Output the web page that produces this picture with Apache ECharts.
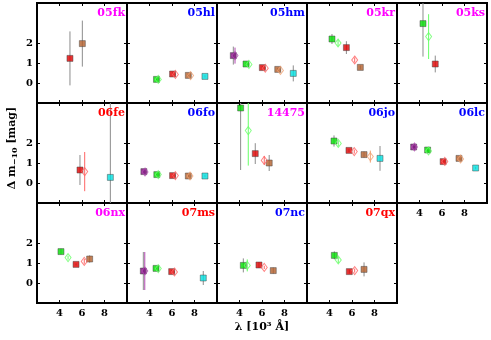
<!DOCTYPE html>
<html>
<head>
<meta charset="utf-8">
<script src="https://cdn.jsdelivr.net/npm/echarts@6/dist/echarts.min.js"></script>
<style>
html, body { margin: 0; padding: 0; background: #fff; }
#container { width: 491px; height: 340px; }
</style>
</head>
<body>
<div id="container"></div>
<script>
// panel names, in reading order (5 per row)
var panelNames = ['05fk', '05hl', '05hm', '05kr', '05ks', '06fe', '06fo', '14475', '06jo', '06lc', '06nx', '07ms', '07nc', '07qx'];
var nameColors = ['#ff00ff', '#0000ff', '#0000ff', '#ff00ff', '#ff00ff', '#ff0000', '#0000ff', '#ff00ff', '#0000ff', '#0000ff', '#ff00ff', '#ff0000', '#0000ff', '#ff0000'];

var xTicks = [4, 6, 8];
var yTicks = [0, 1, 2];

// [lambda (10^3 A), delta m, error, band, open(1) / filled(0)]
var d05fk = [[4.93, 1.23, 1.35, 'r', 0], [6.03, 1.97, 1.15, 'b', 0]];
var d05hl = [[4.62, 0.18, 0.08, 'g', 0], [4.78, 0.18, 0.06, 'g', 1], [6.05, 0.45, 0.08, 'r', 0], [6.3, 0.43, 0.06, 'r', 1],
             [7.45, 0.38, 0.08, 'b', 0], [7.65, 0.37, 0.06, 'b', 1], [8.93, 0.33, 0.06, 'c', 0]];
var d05hm = [[3.45, 1.37, 0.45, 'p', 0], [3.6, 1.37, 0.4, 'p', 1], [4.58, 0.95, 0.08, 'g', 0], [4.84, 0.93, 0.06, 'g', 1],
             [6.03, 0.77, 0.08, 'r', 0], [6.29, 0.74, 0.06, 'r', 1], [7.4, 0.68, 0.08, 'b', 0], [7.64, 0.63, 0.06, 'b', 1],
             [8.78, 0.48, 0.4, 'c', 0]];
var d05kr = [[4.22, 2.2, 0.25, 'g', 0], [4.76, 2.0, 0.16, 'g', 1], [5.5, 1.77, 0.32, 'r', 0], [6.24, 1.15, 0.13, 'r', 1],
             [6.74, 0.78, 0.1, 'b', 0]];
var d05ks = [[4.31, 2.97, 1.65, 'g', 0], [4.81, 2.32, 1.12, 'g', 1], [5.4, 0.95, 0.42, 'r', 0]];
var d06fe = [[5.82, 0.65, 0.75, 'r', 0], [6.24, 0.57, 0.98, 'r', 1], [8.52, 0.28, 5.0, 'c', 0]];
var d06fo = [[3.5, 0.57, 0.1, 'p', 0], [3.6, 0.55, 0.08, 'p', 1], [4.65, 0.42, 0.08, 'g', 0], [4.78, 0.42, 0.06, 'g', 1],
             [6.05, 0.37, 0.08, 'r', 0], [6.3, 0.37, 0.06, 'r', 1], [7.45, 0.35, 0.08, 'b', 0], [7.6, 0.35, 0.06, 'b', 1],
             [8.93, 0.35, 0.06, 'c', 0]];
var d14475 = [[4.1, 3.75, 3.1, 'g', 0], [4.78, 2.62, 1.75, 'g', 1], [5.4, 1.47, 0.52, 'r', 0], [6.2, 1.13, 0.22, 'r', 1],
              [6.64, 1.0, 0.4, 'b', 0]];
var d06jo = [[4.4, 2.1, 0.28, 'g', 0], [4.78, 1.98, 0.15, 'g', 1], [5.73, 1.63, 0.08, 'r', 0], [6.2, 1.57, 0.1, 'r', 1],
             [7.07, 1.42, 0.15, 'b', 0], [7.63, 1.32, 0.3, 'b', 1], [8.49, 1.23, 0.62, 'c', 0]];
var d06lc = [[3.48, 1.8, 0.08, 'p', 0], [3.55, 1.8, 0.06, 'p', 1], [4.72, 1.65, 0.08, 'g', 0], [4.8, 1.6, 0.06, 'g', 1],
             [6.1, 1.07, 0.08, 'r', 0], [6.25, 1.08, 0.06, 'r', 1], [7.51, 1.23, 0.08, 'b', 0], [7.65, 1.2, 0.06, 'b', 1],
             [8.99, 0.75, 0.06, 'c', 0]];
var d06nx = [[4.13, 1.57, 0.15, 'g', 0], [4.76, 1.27, 0.1, 'g', 1], [5.47, 0.93, 0.05, 'r', 0], [6.2, 1.08, 0.12, 'r', 1],
             [6.68, 1.2, 0.18, 'b', 0]];
var d07ms = [[3.45, 0.6, 0.95, 'p', 0], [3.58, 0.6, 0.95, 'p', 1], [4.58, 0.73, 0.08, 'g', 0], [4.78, 0.72, 0.06, 'g', 1],
             [5.97, 0.57, 0.08, 'r', 0], [6.22, 0.55, 0.06, 'r', 1], [8.78, 0.25, 0.35, 'c', 0]];
var d07nc = [[4.34, 0.88, 0.35, 'g', 0], [4.69, 0.88, 0.3, 'g', 1], [5.73, 0.9, 0.15, 'r', 0], [6.2, 0.78, 0.08, 'r', 1],
             [7.0, 0.62, 0.15, 'b', 0]];
var d07qx = [[4.43, 1.38, 0.2, 'g', 0], [4.78, 1.15, 0.15, 'g', 1], [5.76, 0.57, 0.1, 'r', 0], [6.24, 0.62, 0.1, 'r', 1],
             [7.07, 0.68, 0.35, 'b', 0]];

var panelData = [d05fk, d05hl, d05hm, d05kr, d05ks, d06fe, d06fo, d14475, d06jo, d06lc, d06nx, d07ms, d07nc, d07qx];

var fillColors = {p: '#7a0a7a', g: '#00dd00', r: '#e00000', b: '#b35f2c', c: '#00e0e0'};
var openColors = {p: '#b048b0', g: '#66ff66', r: '#ff6464', b: '#f0a070', c: '#80ffff'};
var errGrey = '#8c8c8c';
var font = '"DejaVu Serif", serif';

var grids = [], xAxes = [], yAxes = [], series = [], graphics = [];

panelNames.forEach(function (name, i) {
    var r = Math.floor(i / 5), c = i % 5;
    var left = 37 + 90 * c, top = 3 + 100 * r;
    grids.push({left: left, top: top, width: 90, height: 100, show: true,
        borderColor: '#000', borderWidth: 2, backgroundColor: '#fff'});
    var showX = (r === 2) || (r === 1 && c === 4);
    var showY = (c === 0);
    var tick = {show: true, inside: true, length: 3, customValues: xTicks, lineStyle: {color: '#000', width: 1}};
    xAxes.push({gridIndex: i, type: 'value', min: 2, max: 10, position: 'bottom',
        axisLine: {show: false, onZero: false}, splitLine: {show: false}, axisTick: tick,
        axisLabel: {show: showX, customValues: xTicks, margin: 5, color: '#000',
            fontFamily: font, fontWeight: 'bold', fontSize: 10}});
    xAxes.push({gridIndex: i, type: 'value', min: 2, max: 10, position: 'top',
        axisLine: {show: false, onZero: false}, splitLine: {show: false}, axisTick: tick, axisLabel: {show: false}});
    var ytick = {show: true, inside: true, length: 3, customValues: yTicks, lineStyle: {color: '#000', width: 1}};
    yAxes.push({gridIndex: i, type: 'value', min: -1, max: 4, position: 'left',
        axisLine: {show: false, onZero: false}, splitLine: {show: false}, axisTick: ytick,
        axisLabel: {show: showY, customValues: yTicks, margin: 4, color: '#000',
            fontFamily: font, fontWeight: 'bold', fontSize: 10}});
    yAxes.push({gridIndex: i, type: 'value', min: -1, max: 4, position: 'right',
        axisLine: {show: false, onZero: false}, splitLine: {show: false}, axisTick: ytick, axisLabel: {show: false}});

    var pts = panelData[i];
    // error bars
    series.push({
        type: 'custom', xAxisIndex: 2 * i, yAxisIndex: 2 * i, z: 2, silent: true,
        data: pts.map(function (d) { return [d[0], d[1], d[2], d[4]]; }),
        renderItem: function (params, api) {
            var x = api.value(0), y = api.value(1), e = api.value(2);
            var d = pts[params.dataIndex];
            var lo = Math.max(y - e, -1), hi = Math.min(y + e, 4);
            var p1 = api.coord([x, lo]), p2 = api.coord([x, hi]);
            return {type: 'line', shape: {x1: p1[0], y1: p1[1], x2: p2[0], y2: p2[1]},
                style: {stroke: d[4] ? openColors[d[3]] : errGrey, lineWidth: 1}};
        }
    });
    // filled squares
    series.push({
        type: 'scatter', xAxisIndex: 2 * i, yAxisIndex: 2 * i, z: 3, symbol: 'rect', symbolSize: 6,
        data: pts.filter(function (d) { return !d[4]; }).map(function (d) {
            return {value: [d[0], d[1]], itemStyle: {color: fillColors[d[3]], borderColor: '#444', borderWidth: 0.6}};
        })
    });
    // open diamonds
    series.push({
        type: 'scatter', xAxisIndex: 2 * i, yAxisIndex: 2 * i, z: 4, symbol: 'diamond', symbolSize: [6, 8],
        data: pts.filter(function (d) { return d[4]; }).map(function (d) {
            return {value: [d[0], d[1]], itemStyle: {color: 'rgba(255,255,255,0)', borderColor: openColors[d[3]], borderWidth: 1}};
        })
    });
    graphics.push({type: 'text', x: left + 88, y: top + 5, z: 10,
        style: {text: name, fill: nameColors[i], align: 'right', verticalAlign: 'top',
            font: 'bold 11px ' + font}});
});

graphics.push({type: 'text', x: 262, y: 322, z: 10,
    style: {text: 'λ [10³ Å]', fill: '#000', align: 'center', verticalAlign: 'top', font: 'bold 11px ' + font}});
graphics.push({type: 'text', x: 12, y: 148, rotation: Math.PI / 2, z: 10,
    style: {text: '{a|Δ m}{s|−10}{a| [mag]}', fill: '#000', align: 'center', verticalAlign: 'middle',
        rich: {
            a: {fontFamily: font, fontWeight: 'bold', fontSize: 11, lineHeight: 14, fill: '#000'},
            s: {fontFamily: font, fontWeight: 'bold', fontSize: 8, lineHeight: 14, padding: [5, 0, 0, 0], fill: '#000'}
        }}});

var myChart = echarts.init(document.getElementById('container'), null, {renderer: 'canvas'});
var option = {
    animation: false,
    backgroundColor: '#fff',
    grid: grids,
    xAxis: xAxes,
    yAxis: yAxes,
    series: series,
    graphic: graphics
};
myChart.setOption(option);
</script>
</body>
</html>
